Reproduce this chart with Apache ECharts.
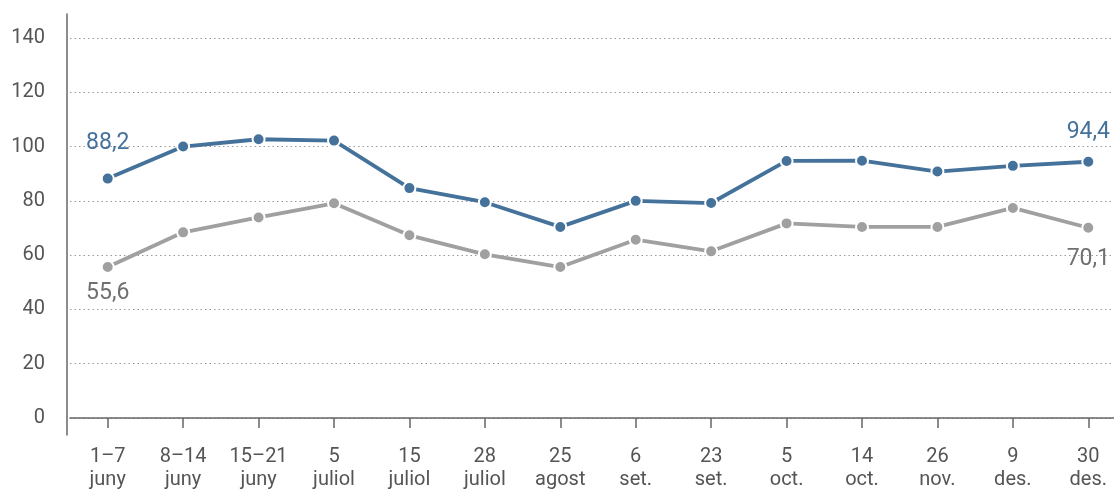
<!DOCTYPE html>
<html>
<head>
<meta charset="utf-8">
<script src="https://cdn.jsdelivr.net/npm/echarts@6/dist/echarts.min.js"></script>
<style>html,body{margin:0;padding:0;background:#fff}#c{width:1114px;height:489px}</style>
</head>
<body>
<div id="c"></div>
<script>
var categories = ["1–7\njuny","8–14\njuny","15–21\njuny","5\njuliol","15\njuliol","28\njuliol","25\nagost","6\nset.","23\nset.","5\noct.","14\noct.","26\nnov.","9\ndes.","30\ndes."];
var blueValues = [88.2, 100.0, 102.7, 102.2, 84.7, 79.5, 70.4, 80.0, 79.2, 94.7, 94.8, 90.8, 92.9, 94.4];
var grayValues = [55.6, 68.4, 73.9, 79.1, 67.3, 60.3, 55.6, 65.7, 61.4, 71.7, 70.4, 70.4, 77.4, 70.1];
var yTicks = [0, 20, 40, 60, 80, 100, 120, 140];

var BLUE = '#45729b', GRAY = '#a0a0a0';
var FONT = 'Roboto';
function fmt(v){ return String(v.toFixed(1)).replace('.', ','); }
function withEndLabels(vals, color, pos, dist){
  return vals.map(function(v, i){
    if (i === 0 || i === vals.length - 1) {
      return {value: v, label: {show: true, position: pos, distance: dist[i === 0 ? 0 : 1], color: color,
        fontSize: 23, fontFamily: FONT, formatter: function(p){ return fmt(p.value); }}};
    }
    return v;
  });
}
var chart = echarts.init(document.getElementById('c'));
chart.setOption({
  animation: false,
  grid: [
    {left: 70, width: 1056, top: 38, bottom: 71, outerBoundsMode: 'none'},
    {left: 67, right: 0, top: 14, bottom: 54, outerBoundsMode: 'none'}
  ],
  xAxis: [{
    gridIndex: 0, type: 'category', data: categories, boundaryGap: true,
    axisLine: {show: true, lineStyle: {color: '#666', width: 1.5}},
    axisTick: {show: true, alignWithLabel: true, length: 10, lineStyle: {color: '#666', width: 1.5}},
    axisLabel: {color: '#555', fontSize: 20, fontFamily: FONT, lineHeight: 23, margin: 27, interval: 0}
  }, {
    gridIndex: 1, type: 'value', show: false
  }],
  yAxis: [{
    gridIndex: 0, type: 'value', min: yTicks[0], max: yTicks[yTicks.length - 1], interval: 20,
    axisLine: {show: false}, axisTick: {show: false},
    axisLabel: {color: '#555', fontSize: 20, fontFamily: FONT, margin: 25},
    splitLine: {show: true, lineStyle: {color: '#999', type: [1.5, 3], width: 1}}
  }, {
    gridIndex: 1, type: 'value', min: 0, max: 1,
    axisLine: {show: true, lineStyle: {color: '#666', width: 1.5}},
    axisTick: {show: false}, axisLabel: {show: false}, splitLine: {show: false}
  }],
  series: [{
    type: 'line', xAxisIndex: 0, yAxisIndex: 0,
    data: withEndLabels(grayValues, '#707070', 'bottom', [8, 13]),
    lineStyle: {color: GRAY, width: 3.8},
    itemStyle: {color: GRAY, borderColor: '#fff', borderWidth: 2},
    symbol: 'circle', symbolSize: 12, showSymbol: true, z: 2
  }, {
    type: 'line', xAxisIndex: 0, yAxisIndex: 0,
    data: withEndLabels(blueValues, BLUE, 'top', [17, 11]),
    lineStyle: {color: BLUE, width: 3.8},
    itemStyle: {color: BLUE, borderColor: '#fff', borderWidth: 2},
    symbol: 'circle', symbolSize: 12, showSymbol: true, z: 3
  }]
});
</script>
</body>
</html>
